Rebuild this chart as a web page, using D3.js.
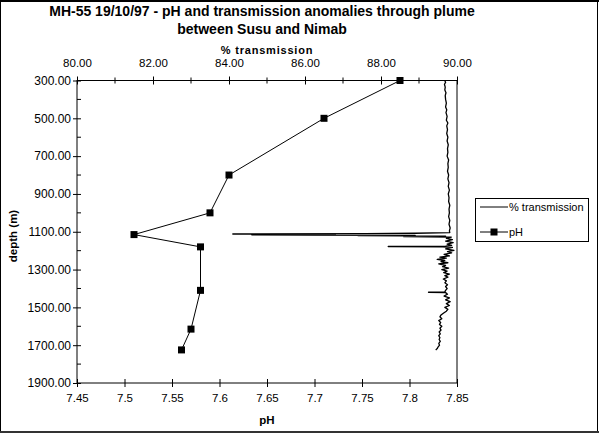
<!DOCTYPE html>
<html>
<head>
<meta charset="utf-8">
<script src="https://cdn.jsdelivr.net/npm/d3@7/dist/d3.min.js"></script>
<style>
  html, body { margin: 0; padding: 0; background: #fff; }
  svg { display: block; font-family: "Liberation Sans", Arial, sans-serif; }
</style>
</head>
<body>
<svg id="chart" width="599" height="434"></svg>
<script>
// pH samples (bottle stations)
const phDepth = [300, 500, 800, 1000, 1115, 1180, 1410, 1615, 1725];
const phValue = [7.79, 7.71, 7.61, 7.59, 7.51, 7.58, 7.58, 7.57, 7.56];

// CTD transmissometer profile
const trDepth = [300, 310, 320, 335, 350, 365, 380, 400, 420, 440, 455, 470, 490, 510, 525, 540, 560, 580,
  600, 620, 640, 660, 680, 700, 720, 740, 760, 780, 800, 820, 840, 860, 880, 900, 920, 940, 960, 980,
  1000, 1020, 1040, 1060, 1080, 1095, 1105, 1108, 1110, 1112, 1113, 1114, 1116, 1118, 1119, 1121, 1123,
  1126, 1128, 1135, 1142, 1150, 1158, 1165, 1172, 1176, 1178, 1180, 1183, 1190, 1198, 1205, 1212, 1220,
  1228, 1234, 1240, 1246, 1252, 1258, 1264, 1270, 1278, 1285, 1292, 1300, 1308, 1316, 1324, 1332, 1340,
  1350, 1360, 1370, 1380, 1390, 1400, 1410, 1418, 1420, 1422, 1430, 1440, 1450, 1460, 1470, 1480, 1490,
  1500, 1510, 1520, 1530, 1540, 1550, 1560, 1570, 1580, 1590, 1600, 1610, 1620, 1630, 1640, 1650, 1660,
  1670, 1680, 1690, 1700, 1710, 1718, 1725];
const trValue = [89.68, 89.70, 89.67, 89.69, 89.68, 89.71, 89.69, 89.70, 89.72, 89.70, 89.73, 89.71, 89.74,
  89.72, 89.76, 89.73, 89.75, 89.73, 89.76, 89.74, 89.77, 89.75, 89.76, 89.74, 89.78, 89.76, 89.77, 89.75,
  89.78, 89.76, 89.79, 89.77, 89.80, 89.77, 89.79, 89.78, 89.81, 89.79, 89.80, 89.78, 89.81, 89.79, 89.82,
  89.80, 89.81, 88.90, 87.60, 84.10, 85.20, 86.80, 84.60, 86.20, 88.90, 87.40, 89.70, 88.60, 89.85, 89.72,
  89.88, 89.70, 89.90, 89.74, 89.86, 89.70, 88.19, 89.62, 89.88, 89.70, 89.92, 89.75, 89.86, 89.66, 89.80,
  89.55, 89.72, 89.48, 89.68, 89.58, 89.76, 89.52, 89.70, 89.62, 89.78, 89.60, 89.74, 89.65, 89.80, 89.68,
  89.76, 89.64, 89.72, 89.68, 89.75, 89.70, 89.74, 89.70, 89.68, 89.25, 89.70, 89.75, 89.66, 89.80, 89.70,
  89.82, 89.72, 89.80, 89.68, 89.76, 89.72, 89.65, 89.58, 89.55, 89.60, 89.52, 89.57, 89.54, 89.60, 89.55,
  89.58, 89.53, 89.56, 89.52, 89.55, 89.53, 89.56, 89.52, 89.54, 89.50, 89.48, 89.44];

// Axis tick values
const depthTicks = [300, 500, 700, 900, 1100, 1300, 1500, 1700, 1900];
const depthMinor = [400, 600, 800, 1000, 1200, 1400, 1600, 1800];
const phTicks = [7.45, 7.5, 7.55, 7.6, 7.65, 7.7, 7.75, 7.8, 7.85];
const trTicks = [80, 82, 84, 86, 88, 90];
const trMinor = [81, 83, 85, 87, 89];

const titleLines = ["MH-55 19/10/97 - pH and transmission anomalies through plume",
                    "between Susu and Nimab"];

const svg = d3.select("#chart");
const L = 77, R = 457, T = 80.5, B = 383;

const y = d3.scaleLinear().domain([300, 1900]).range([T, B]);
const xPh = d3.scaleLinear().domain([7.45, 7.85]).range([L, R]);
const xTr = d3.scaleLinear().domain([80, 90]).range([L, R]);

// outer frame
svg.append("rect").attr("x", 0.5).attr("y", 1).attr("width", 597).attr("height", 431)
  .attr("fill", "#fff").attr("stroke", "#000").attr("stroke-width", 1);
svg.append("line").attr("x1", 0).attr("x2", 599).attr("y1", 1).attr("y2", 1)
  .attr("stroke", "#000").attr("stroke-width", 2);
svg.append("line").attr("x1", 0).attr("x2", 599).attr("y1", 432).attr("y2", 432)
  .attr("stroke", "#333").attr("stroke-width", 2);

// plot frame
svg.append("rect").attr("x", L).attr("y", T).attr("width", R - L).attr("height", B - T)
  .attr("fill", "none").attr("stroke", "#000").attr("stroke-width", 1);

// title
svg.append("g").selectAll("text").data(titleLines).join("text")
  .attr("x", 262).attr("y", (d, i) => 16 + i * 18)
  .attr("text-anchor", "middle").attr("font-weight", "bold").attr("font-size", 14)
  .text(d => d);

// left depth axis
const yAxis = svg.append("g").attr("transform", `translate(${L},0)`)
  .call(d3.axisLeft(y).tickValues(depthTicks).tickFormat(d3.format(".2f")).tickSize(4).tickPadding(2));
yAxis.selectAll(".tick line").attr("x1", 4).attr("x2", -4);
yAxis.append("g").selectAll("line").data(depthMinor).join("line")
  .attr("x1", 0).attr("x2", 4).attr("y1", d => y(d)).attr("y2", d => y(d)).attr("stroke", "#000");

// bottom pH axis
const xAxis = svg.append("g").attr("transform", `translate(0,${B})`)
  .call(d3.axisBottom(xPh).tickValues(phTicks).tickFormat(d => String(d)).tickSize(4).tickPadding(7));
xAxis.selectAll(".tick line").attr("y1", -4).attr("y2", 4);

// top transmission axis
const tAxis = svg.append("g").attr("transform", `translate(0,${T})`)
  .call(d3.axisTop(xTr).tickValues(trTicks).tickFormat(d3.format(".2f")).tickSize(4).tickPadding(10));
tAxis.selectAll(".tick line").attr("y1", -4).attr("y2", 4);
tAxis.append("g").selectAll("line").data(trMinor).join("line")
  .attr("x1", d => xTr(d)).attr("x2", d => xTr(d)).attr("y1", -3).attr("y2", 3).attr("stroke", "#000");

[yAxis, xAxis, tAxis].forEach(g => {
  g.select(".domain").remove();
  g.selectAll("text").attr("font-size", 11.5).attr("fill", "#000")
    .attr("font-family", "'Liberation Sans', Arial, sans-serif");
  g.selectAll(".tick line").attr("stroke", "#000");
});
yAxis.selectAll("text").attr("font-size", 12);

// axis titles
svg.append("text").attr("x", 267).attr("y", 424).attr("text-anchor", "middle")
  .attr("font-weight", "bold").attr("font-size", 11.5).text("pH");
svg.append("text").attr("transform", "translate(17,236) rotate(-90)").attr("text-anchor", "middle")
  .attr("font-weight", "bold").attr("font-size", 11.5).text("depth (m)");
svg.append("text").attr("x", 267).attr("y", 53.5).attr("text-anchor", "middle")
  .attr("font-weight", "bold").attr("font-size", 11).attr("letter-spacing", 0.8).text("% transmission");

// transmission trace
const trPts = trDepth.map((d, i) => [xTr(trValue[i]), y(d)]);
svg.append("path").attr("d", d3.line()(trPts))
  .attr("fill", "none").attr("stroke", "#000").attr("stroke-width", 1.3).attr("stroke-linejoin", "round");

// pH line with square markers
const phPts = phDepth.map((d, i) => [xPh(phValue[i]), y(d)]);
svg.append("path").attr("d", d3.line()(phPts))
  .attr("fill", "none").attr("stroke", "#000").attr("stroke-width", 1);
svg.append("g").selectAll("rect").data(phPts).join("rect")
  .attr("x", d => d[0] - 3.5).attr("y", d => d[1] - 3.5).attr("width", 7).attr("height", 7)
  .attr("fill", "#000");

// legend
const lg = svg.append("g");
lg.append("rect").attr("x", 475.5).attr("y", 198.5).attr("width", 113).attr("height", 43)
  .attr("fill", "#fff").attr("stroke", "#000");
lg.append("line").attr("x1", 480).attr("x2", 508).attr("y1", 207).attr("y2", 207).attr("stroke", "#000");
lg.append("text").attr("x", 509).attr("y", 211).attr("font-size", 11).text("% transmission");
lg.append("line").attr("x1", 480).attr("x2", 508).attr("y1", 232).attr("y2", 232).attr("stroke", "#000");
lg.append("rect").attr("x", 490.5).attr("y", 228.5).attr("width", 7).attr("height", 7).attr("fill", "#000");
lg.append("text").attr("x", 509).attr("y", 236).attr("font-size", 11).text("pH");
</script>
</body>
</html>
